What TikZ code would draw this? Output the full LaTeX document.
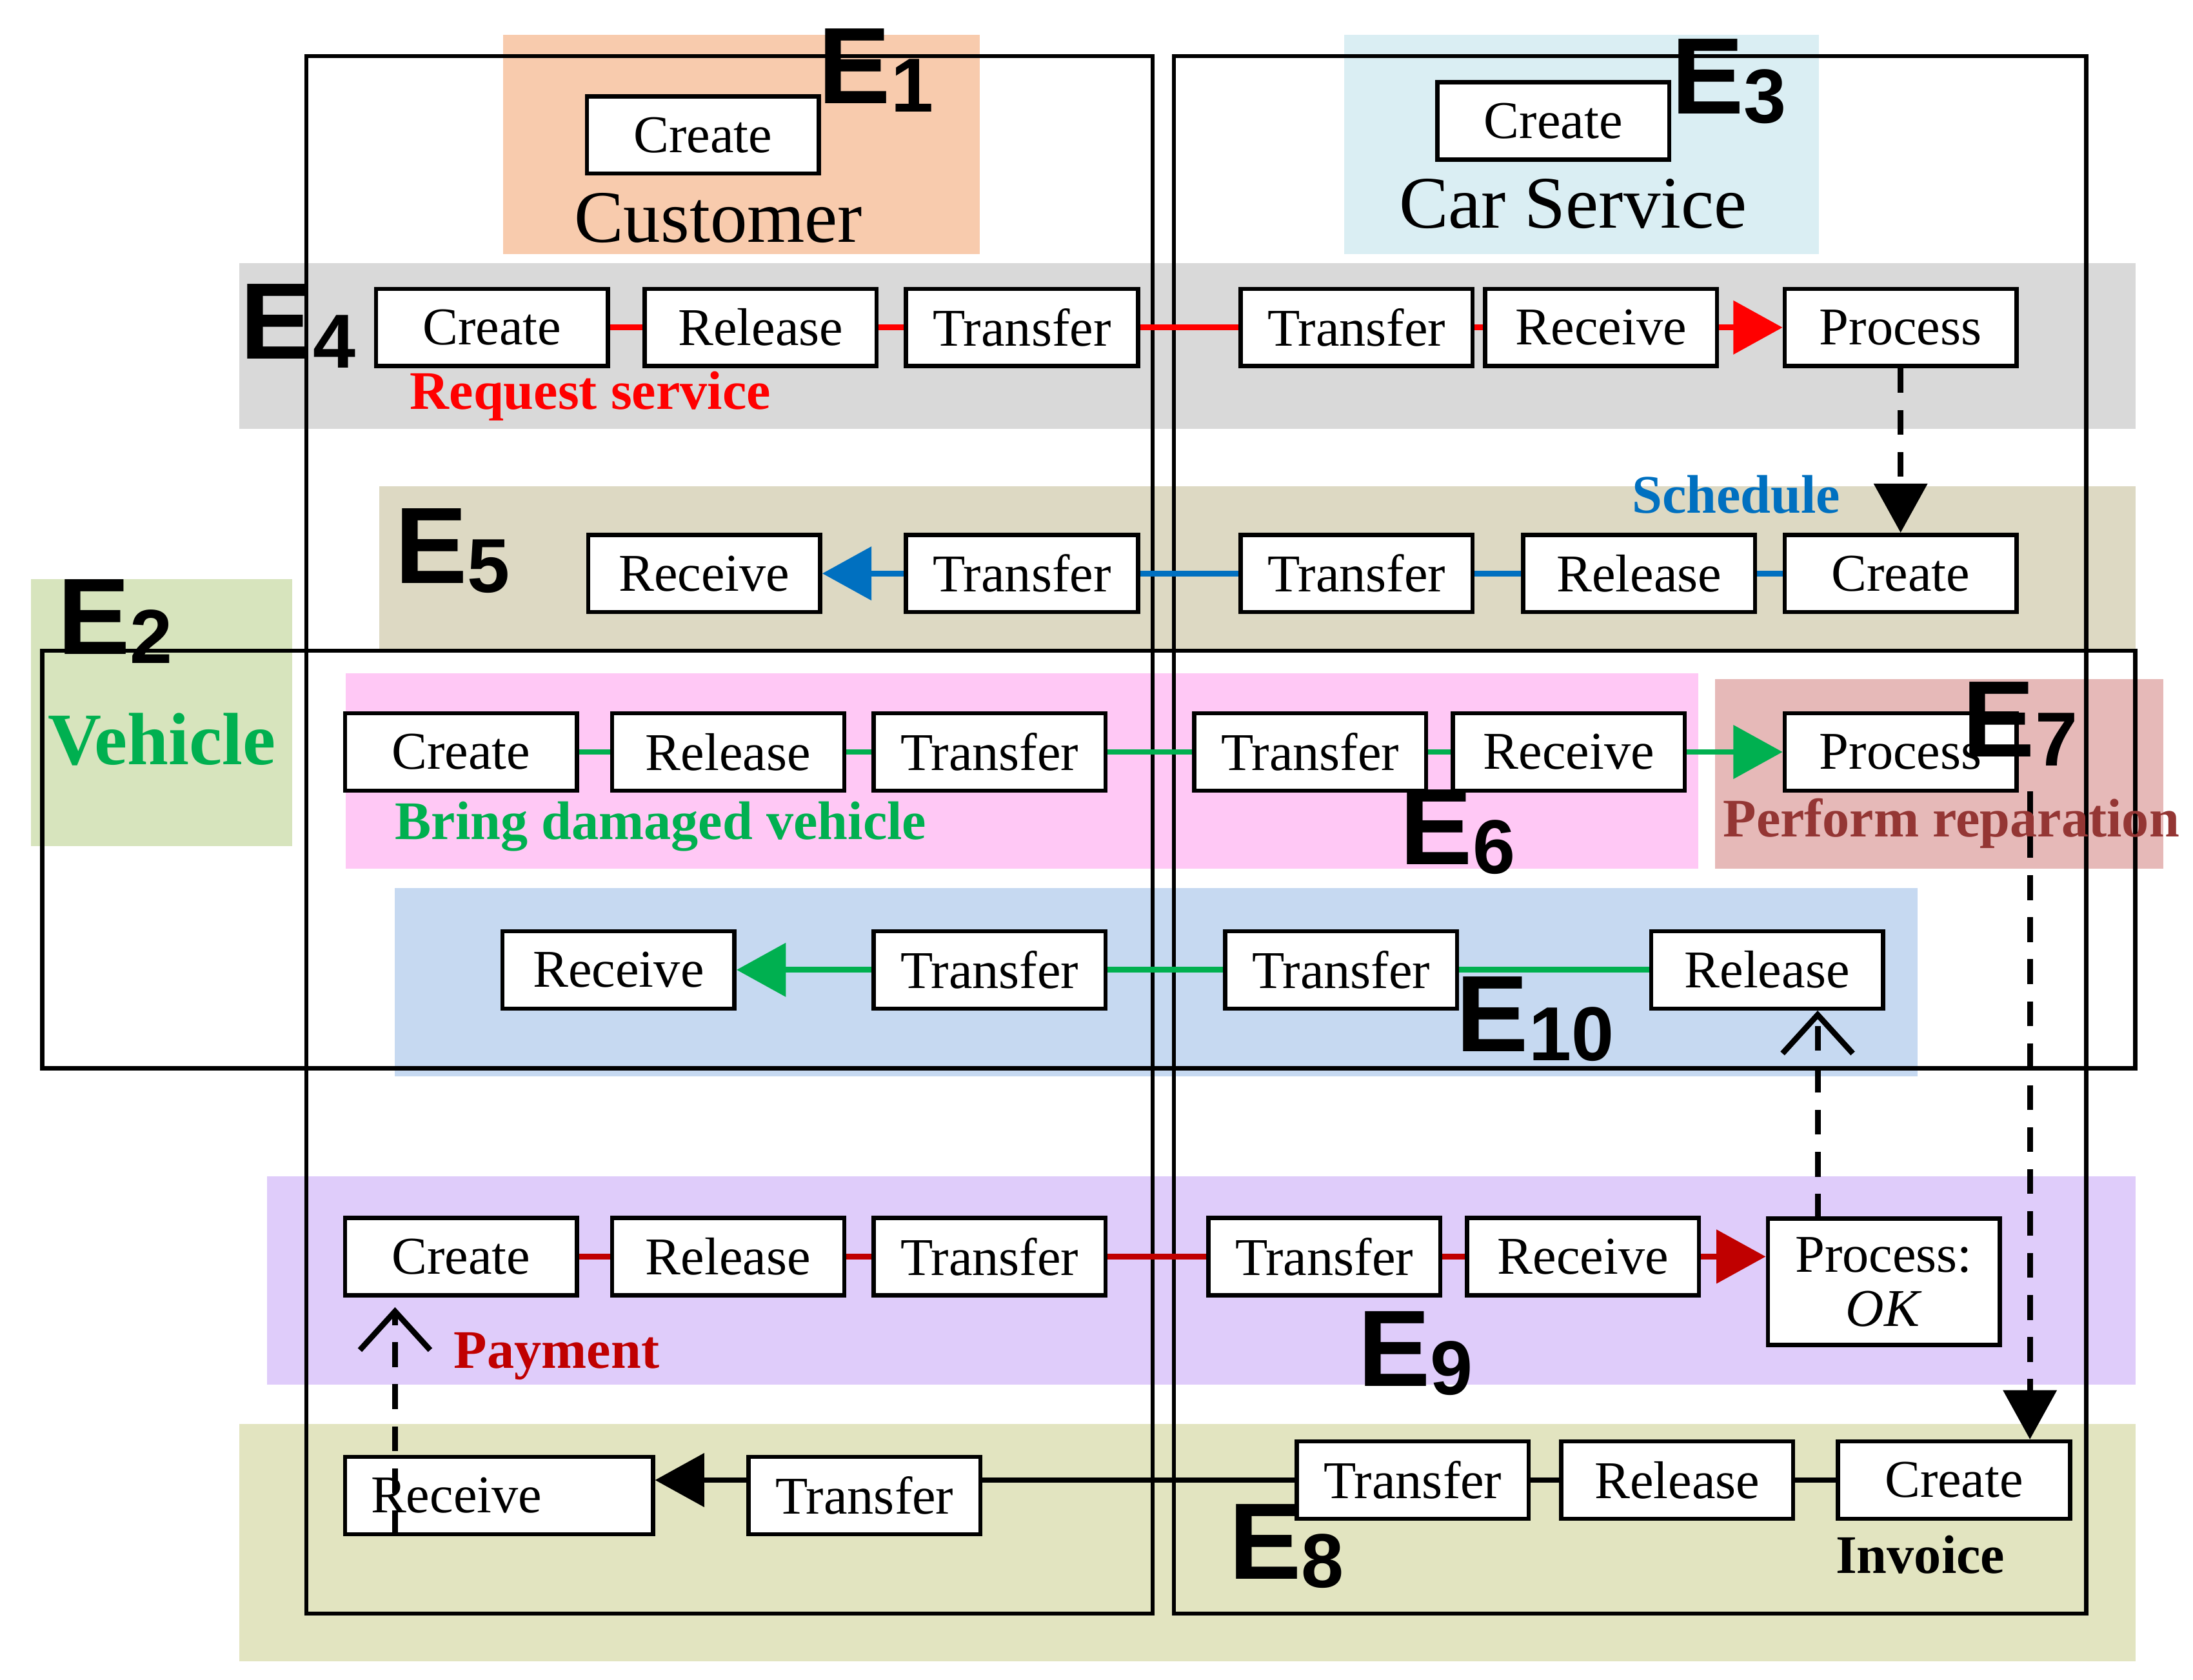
\documentclass[tikz,border=0pt]{standalone}
\usepackage{fontspec}
\setmainfont{Liberation Serif}
\newfontfamily\ES{Liberation Sans}
\usetikzlibrary{arrows.meta}
\definecolor{cOr}{HTML}{F8CBAD}\definecolor{cLb}{HTML}{DAEEF3}\definecolor{cGr}{HTML}{D9D9D9}
\definecolor{cTan}{HTML}{DDD9C3}\definecolor{cVg}{HTML}{D7E4BD}\definecolor{cPk}{HTML}{FFC8F5}
\definecolor{cRo}{HTML}{E6B9B8}\definecolor{cBl}{HTML}{C6D9F1}\definecolor{cPu}{HTML}{DFCCFA}
\definecolor{cOl}{HTML}{E2E4C0}\definecolor{cRed}{HTML}{FF0000}\definecolor{cBlu}{HTML}{0070C0}
\definecolor{cGrn}{HTML}{00B050}\definecolor{cDr}{HTML}{C00000}\definecolor{cBr}{HTML}{943634}
\newcommand\Esub[1]{E\raisebox{-0.08em}{\fontsize{31}{31}\selectfont #1}}
\tikzset{bx/.style={draw,line width=1.7pt,fill=white,minimum width=3.3cm,minimum height=1.1cm,inner sep=0pt,font=\fontsize{21.5}{24}\selectfont},
frame/.style={draw,line width=1.7pt},
con/.style={line width=2.3pt},
E/.style={font=\ES\bfseries\fontsize{44}{44}\selectfont,inner sep=0pt},
lab/.style={font=\bfseries\fontsize{22}{24}\selectfont,inner sep=0pt},
tri/.style={-{Triangle[length=0.7cm,width=0.75cm]}},
dsh/.style={line width=2.3pt,dash pattern=on 10pt off 7pt},
chev/.style={-{Straight Barb[length=0.55cm,width=1cm,line width=2.3pt]}}}
\begin{document}
\begin{tikzpicture}[x=0.02cm,y=-0.02cm]
\useasboundingbox (0,0) rectangle (1560,1195);
% backgrounds
\fill[cOr] (358,25) rectangle (697,181);
\fill[cLb] (956,25) rectangle (1294,181);
\fill[cGr] (170,187) rectangle (1519,305);
\fill[cTan] (270,346) rectangle (1519,462);
\fill[cVg] (22,412) rectangle (208,602);
\fill[cPk] (246,479) rectangle (1208,618);
\fill[cRo] (1220,483) rectangle (1539,618);
\fill[cBl] (281,632) rectangle (1364,766);
\fill[cPu] (190,837) rectangle (1519,985);
\fill[cOl] (170,1013) rectangle (1519,1182);
% frames
\draw[frame] (218,40) rectangle (820,1148);
\draw[frame] (835,40) rectangle (1484,1148);
\draw[frame] (30,463) rectangle (1519,760);
% titles
\node[font=\fontsize{30}{32}\selectfont] (cust) at (511,155) {Customer};
\node[font=\fontsize{30}{32}\selectfont] (cars) at (1119,145) {Car Service};
\node[font=\bfseries\fontsize{30}{32}\selectfont,text=cGrn] (veh) at (115,526) {Vehicle};
\node[bx] (c1) at (500,96) {Create};
\node[bx] (c3) at (1105,86) {Create};
% row1
\node[bx] (a1) at (350,233) {Create};
\node[bx] (a2) at (541,233) {Release};
\node[bx] (a3) at (727,233) {Transfer};
\node[bx] (a4) at (965,233) {Transfer};
\node[bx] (a5) at (1139,233) {Receive};
\node[bx] (a6) at (1352,233) {Process};
\draw[con,cRed] (a1)--(a2) (a2)--(a3) (a3)--(a4) (a4)--(a5);
\draw[con,cRed,tri] (a5)--(a6);
% row2
\node[bx] (b1) at (501,408) {Receive};
\node[bx] (b2) at (727,408) {Transfer};
\node[bx] (b3) at (965,408) {Transfer};
\node[bx] (b4) at (1166,408) {Release};
\node[bx] (b5) at (1352,408) {Create};
\draw[con,cBlu] (b5)--(b4) (b4)--(b3) (b3)--(b2);
\draw[con,cBlu,tri] (b2)--(b1);
\draw[dsh,tri] (a6)--(b5);
% row3
\node[bx] (d1) at (328,535) {Create};
\node[bx] (d2) at (518,535) {Release};
\node[bx] (d3) at (704,535) {Transfer};
\node[bx] (d4) at (932,535) {Transfer};
\node[bx] (d5) at (1116,535) {Receive};
\node[bx] (d6) at (1352,535) {Process};
\draw[con,cGrn] (d1)--(d2) (d2)--(d3) (d3)--(d4) (d4)--(d5);
\draw[con,cGrn,tri] (d5)--(d6);
% row4
\node[bx] (f1) at (440,690) {Receive};
\node[bx] (f2) at (704,690) {Transfer};
\node[bx] (f3) at (954,690) {Transfer};
\node[bx] (f4) at (1257,690) {Release};
\draw[con,cGrn] (f4)--(f3) (f3)--(f2);
\draw[con,cGrn,tri] (f2)--(f1);
% row5
\node[bx] (g1) at (328,894) {Create};
\node[bx] (g2) at (518,894) {Release};
\node[bx] (g3) at (704,894) {Transfer};
\node[bx] (g4) at (942,894) {Transfer};
\node[bx] (g5) at (1126,894) {Receive};
\node[bx,minimum height=1.8cm,align=center] (g6) at (1340,912) {Process:\\[-2pt]\textit{OK}};
\draw[con,cDr] (g1)--(g2) (g2)--(g3) (g3)--(g4) (g4)--(g5);
\draw[con,cDr,tri] (g5)--(g5-|g6.west);
\coordinate (up) at (1293,867);
\draw[dsh,chev] (up)--(up|-f4.south);
% row6
\node[bx,minimum width=4.38cm,text width=4.1cm,align=left] (h1) at (355,1064) {\hspace*{0.3em}Receive};
\node[bx] (h2) at (615,1064) {Transfer};
\node[bx] (h3) at (1005,1053) {Transfer};
\node[bx] (h4) at (1193,1053) {Release};
\node[bx] (h5) at (1390,1053) {Create};
\draw[con] (h5)--(h4) (h4)--(h3) (h3.west)--(h3.west-|h2.east);
\draw[con,tri] (h2.west|-h3.west)--(h3.west-|h1.east);
\coordinate (p7) at (1444,563);
\draw[dsh,tri] (p7)--(p7|-h5.north);
\coordinate (rb) at (281,1092);
\coordinate (ct) at (281,930);
\draw[dsh,chev] (rb)--(ct);
% labels
\node[lab,text=cRed] (l1) at (420,282) {Request service};
\node[lab,text=cBlu] (l2) at (1235,352) {Schedule};
\node[lab,text=cGrn] (l3) at (470,588) {Bring damaged vehicle};
\node[lab,text=cBr] (l4) at (1388,586) {Perform reparation};
\node[lab,text=cDr] (l5) at (396,965) {Payment};
\node[lab] (l6) at (1366,1106) {Invoice};
% E labels
\node[E] (e1) at (623,50) {\Esub{1}};
\node[E] (e3) at (1230,58) {\Esub{3}};
\node[E] (e4) at (212,232) {\Esub{4}};
\node[E] (e5) at (322,392) {\Esub{5}};
\node[E] (e2) at (82,442) {\Esub{2}};
\node[E] (e7) at (1437,515) {\Esub{7}};
\node[E] (e6) at (1037,592) {\Esub{6}};
\node[E] (e10) at (1092,725) {\Esub{10}};
\node[E] (e9) at (1007,963) {\Esub{9}};
\node[E] (e8) at (915,1100) {\Esub{8}};
\end{tikzpicture}
\end{document}
